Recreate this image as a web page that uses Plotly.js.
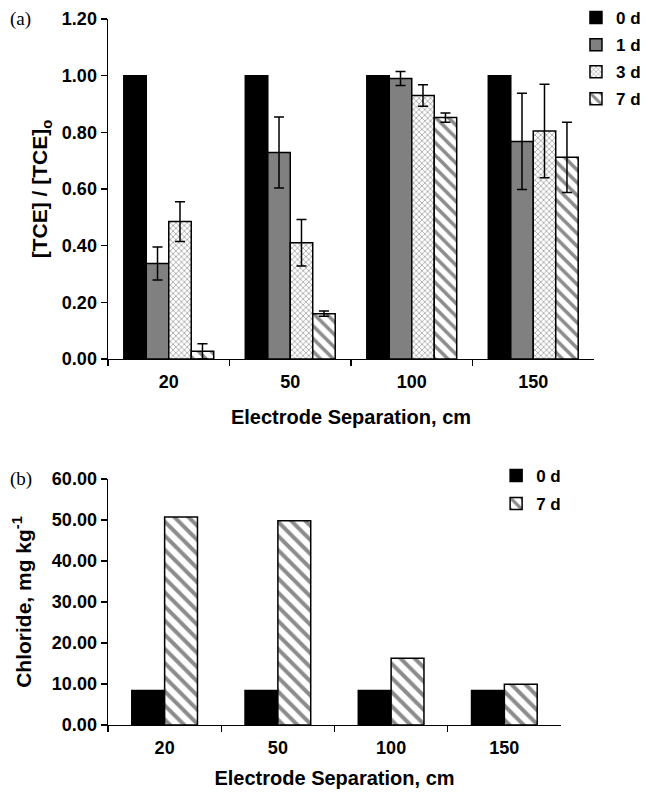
<!DOCTYPE html>
<html>
<head>
<meta charset="utf-8">
<script src="https://cdn.plot.ly/plotly-3.0.1.min.js"></script>
<style>html,body{margin:0;padding:0;background:#fff;}#chart{width:646px;height:793px;}</style>
</head>
<body>
<div id="chart"></div>
<script>
// Panel (a): normalized TCE
var categories = ['20', '50', '100', '150'];
var seriesNamesA = ['0 d', '1 d', '3 d', '7 d'];
var tce0d = [1.00, 1.00, 1.00, 1.00];
var tce1d = [0.337, 0.729, 0.990, 0.768];
var tce1dErr = [0.058, 0.125, 0.025, 0.170];
var tce3d = [0.485, 0.410, 0.930, 0.805];
var tce3dErr = [0.070, 0.082, 0.038, 0.165];
var tce7d = [0.027, 0.160, 0.852, 0.712];
var tce7dErr = [0.027, 0.009, 0.016, 0.124];
var yTicksA = [0, 0.2, 0.4, 0.6, 0.8, 1.0, 1.2];

// Panel (b): chloride
var seriesNamesB = ['0 d', '7 d'];
var chloride0d = [8.4, 8.4, 8.4, 8.4];
var chloride7d = [50.7, 49.8, 16.3, 9.9];
var yTicksB = [0, 10, 20, 30, 40, 50, 60];

var FONT = "'Liberation Sans', Arial, sans-serif";
var line = {color: '#000', width: 1.5};
var crossPattern = {shape: 'x', size: 4, solidity: 0.3, fgcolor: '#8c8c8c', bgcolor: '#ffffff', fillmode: 'replace'};
var stripePattern = {shape: '\\', size: 9, solidity: 0.4, fgcolor: '#8c8c8c', bgcolor: '#ffffff', fillmode: 'replace'};
function err(arr) { return {type: 'data', array: arr, visible: true, color: '#000', thickness: 1.5, width: 5}; }

var traces = [
  {type: 'bar', x: categories, y: tce0d, name: seriesNamesA[0], xaxis: 'x', yaxis: 'y', legend: 'legend', legendgroup: 'a0',
   marker: {color: '#000', line: line}},
  {type: 'bar', x: categories, y: tce1d, name: seriesNamesA[1], xaxis: 'x', yaxis: 'y', legend: 'legend', legendgroup: 'a1',
   marker: {color: '#808080', line: line}, error_y: err(tce1dErr)},
  {type: 'bar', x: categories, y: tce3d, name: seriesNamesA[2], xaxis: 'x', yaxis: 'y', legend: 'legend', legendgroup: 'a2',
   marker: {color: '#ffffff', pattern: crossPattern, line: line}, error_y: err(tce3dErr)},
  {type: 'bar', x: categories, y: tce7d, name: seriesNamesA[3], xaxis: 'x', yaxis: 'y', legend: 'legend', legendgroup: 'a3',
   marker: {color: '#ffffff', pattern: stripePattern, line: line}, error_y: err(tce7dErr)},
  {type: 'bar', x: categories, y: chloride0d, name: seriesNamesB[0], xaxis: 'x2', yaxis: 'y2', legend: 'legend2', legendgroup: 'b0',
   width: 0.29, offset: -0.29, marker: {color: '#000', line: line}},
  {type: 'bar', x: categories, y: chloride7d, name: seriesNamesB[1], xaxis: 'x2', yaxis: 'y2', legend: 'legend2', legendgroup: 'b1',
   width: 0.29, offset: 0, marker: {color: '#ffffff', pattern: {shape: '\\', size: 10, solidity: 0.4, fgcolor: '#8c8c8c', bgcolor: '#ffffff', fillmode: 'replace'}, line: line}}
];

var tickFont = {family: FONT, size: 18, color: '#000', weight: 'bold'};
var titleFont = {family: FONT, size: 20, color: '#000', weight: 'bold'};
function xAxis(domain, anchor, standoff) {
  return {domain: domain, anchor: anchor, type: 'category', showline: true, linecolor: '#000', linewidth: 1.5,
    ticks: 'outside', tickson: 'boundaries', ticklen: 6, tickwidth: 1.5, tickcolor: '#000', showgrid: false, zeroline: false,
    tickfont: tickFont, ticklabelstandoff: 6, automargin: false,
    title: {text: 'Electrode Separation, cm', font: titleFont, standoff: standoff}};
}
function yAxis(domain, anchor, range, ticks, title, standoff) {
  return {domain: domain, anchor: anchor, range: range, tickvals: ticks, tickformat: '.2f', showline: true, linecolor: '#000', linewidth: 1.5,
    ticks: 'outside', ticklen: 6, tickwidth: 1.5, tickcolor: '#000', showgrid: false, zeroline: false,
    tickfont: tickFont, automargin: false,
    title: {text: title, font: {family: FONT, size: 21, color: '#000', weight: 'bold'}, standoff: standoff}};
}

var layout = {
  width: 646, height: 793,
  margin: {l: 0, r: 0, t: 0, b: 0},
  paper_bgcolor: '#fff', plot_bgcolor: '#fff',
  font: {family: FONT, color: '#000', weight: 'bold'},
  barmode: 'group', bargap: 0.26, bargroupgap: 0,
  showlegend: true,
  xaxis: xAxis([0.1672, 0.9195], 'y', 19),
  yaxis: yAxis([0.5473, 0.976], 'x', [0, 1.2], yTicksA, '[TCE] / [TCE]<sub>o</sub>', 8),
  xaxis2: xAxis([0.1672, 0.8684], 'y2', 14),
  yaxis2: yAxis([0.0858, 0.396], 'x2', [0, 60], yTicksB, 'Chloride, mg kg<sup>-1</sup>', 14),
  legend: {x: 0.8916, y: 1.0, xanchor: 'left', yanchor: 'top', traceorder: 'grouped', tracegroupgap: 2,
    font: {family: FONT, size: 17, color: '#000', weight: 'bold'}, bgcolor: 'rgba(0,0,0,0)', borderwidth: 0},
  legend2: {x: 0.768, y: 0.4225, xanchor: 'left', yanchor: 'top', traceorder: 'grouped', tracegroupgap: 3,
    font: {family: FONT, size: 17, color: '#000', weight: 'bold'}, bgcolor: 'rgba(0,0,0,0)', borderwidth: 0},
  annotations: [
    {text: '(a)', xref: 'paper', yref: 'paper', x: 8 / 646, y: 1 - 19 / 793, xanchor: 'left', yanchor: 'middle', showarrow: false,
     font: {family: "'Liberation Serif', 'Times New Roman', serif", size: 19, color: '#000', weight: 'normal'}},
    {text: '(b)', xref: 'paper', yref: 'paper', x: 8 / 646, y: 1 - 479 / 793, xanchor: 'left', yanchor: 'middle', showarrow: false,
     font: {family: "'Liberation Serif', 'Times New Roman', serif", size: 19, color: '#000', weight: 'normal'}}
  ]
};

Plotly.newPlot('chart', traces, layout, {staticPlot: true, displayModeBar: false});
</script>
</body>
</html>
